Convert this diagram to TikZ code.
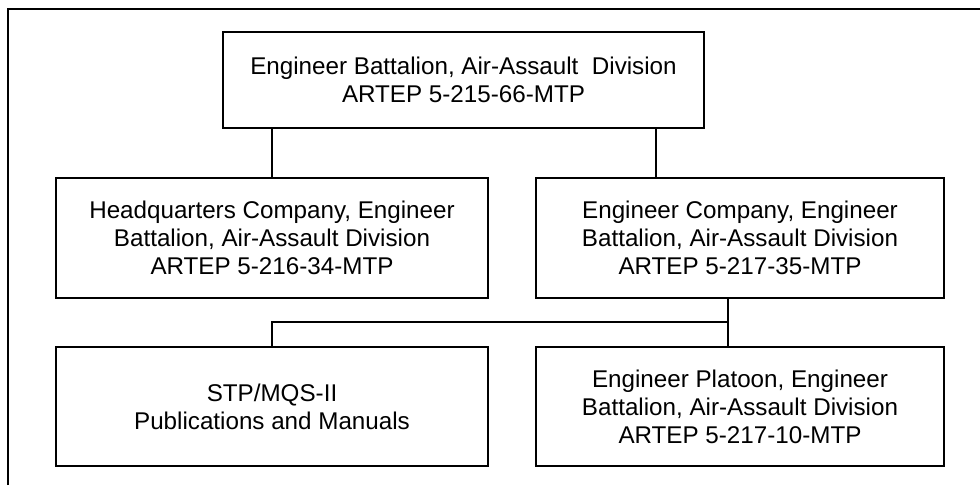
\documentclass[tikz,border=0pt]{standalone}
\usepackage{fontspec}
\setmainfont{Liberation Sans}
\tikzset{
  unitbox/.style={draw, line width=1.6pt, align=center, inner sep=0pt,
    font=\fontsize{24.2}{28}\selectfont},
}
\begin{document}
\begin{tikzpicture}[x=1pt, y=-1pt]
			\useasboundingbox (0,0) rectangle (980,485);
			\draw [line width=1.6pt] (8,485) -- (8,9) -- (980,9);
			\node [unitbox, minimum width=481pt, minimum height=96pt] (bn) at (463.5,80) {Engineer Battalion, Air-Assault\ \ Division\\ARTEP 5-215-66-MTP};
			\node [unitbox, minimum width=432pt, minimum height=120pt] (hq) at (272,238) {Headquarters Company, Engineer\\Battalion, Air-Assault Division\\ARTEP 5-216-34-MTP};
			\node [unitbox, minimum width=408pt, minimum height=120pt] (co) at (740,238) {Engineer Company, Engineer\\Battalion, Air-Assault Division\\ARTEP 5-217-35-MTP};
			\node [unitbox, minimum width=432pt, minimum height=119pt] (stp) at (272,406.5) {STP/MQS-II\\Publications and Manuals};
			\node [unitbox, minimum width=408pt, minimum height=119pt] (plt) at (740,406.5) {Engineer Platoon, Engineer\\Battalion, Air-Assault Division\\ARTEP 5-217-10-MTP};
			\coordinate (cotop) at (656,178);
			\coordinate (cobot) at (728,298);
			\coordinate (split) at (728,322);
			\draw [line width=1.6pt] (bn.south -| hq.north) -- (hq.north);
			\draw [line width=1.6pt] (bn.south -| cotop) -- (cotop);
			\draw [line width=1.6pt] (cobot) -- (plt.north -| cobot);
			\draw [line width=1.6pt] (split) -- (split -| stp.north) -- (stp.north);
		\end{tikzpicture}
\end{document}
